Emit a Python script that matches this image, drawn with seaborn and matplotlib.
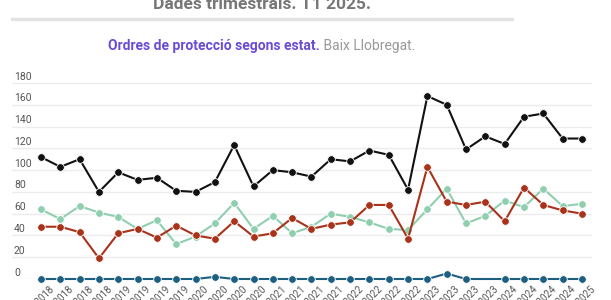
import numpy as np
import pandas as pd
import matplotlib
matplotlib.use("Agg")
import matplotlib.pyplot as plt
import matplotlib.transforms as mtransforms
import seaborn as sns

years = [2018]*4 + [2019]*4 + [2020]*4 + [2021]*4 + [2022]*4 + [2023]*4 + [2024]*4 + [2025]
quarters = [1, 2, 3, 4]*7 + [1]
tick_labels = [f"T{q}/{y}" for q, y in zip(quarters, years)]

serie_negre = [112, 103, 110, 80, 98, 91, 93, 81, 80, 89, 123, 85, 100, 98, 94, 110,
               108, 118, 114, 82, 168, 160, 119, 131, 124, 149, 152, 129, 129]
serie_verd = [64, 55, 67, 61, 57, 46, 54, 32, 39, 51, 70, 46, 58, 42, 48, 60,
              57, 52, 46, 45, 64, 83, 51, 58, 72, 66, 83, 67, 69]
serie_vermell = [48, 48, 43, 19, 42, 46, 38, 49, 40, 37, 53, 39, 42, 56, 46, 50,
                 52, 68, 68, 37, 103, 71, 68, 71, 53, 84, 68, 63, 60]
serie_blau = [0, 0, 0, 0, 0, 0, 0, 0, 0, 2, 0, 0, 0, 0, 0, 0,
              0, 0, 0, 0, 0, 5, 0, np.nan, 0, 0, 0, 0, 0]

series = {"A": serie_negre, "B": serie_verd, "C": serie_vermell, "D": serie_blau}
colors = {"A": "#111111", "B": "#8fcfb0", "C": "#a8321a", "D": "#1d5f80"}

rows = []
for name, vals in series.items():
    for i, v in enumerate(vals):
        rows.append({"x": i, "y": v, "serie": name})
df = pd.DataFrame(rows).dropna()

sns.set_theme(style="white")
plt.rcParams["font.family"] = ["Roboto", "DejaVu Sans"]

W, H = 611, 300
fig = plt.figure(figsize=(W/100, H/100), dpi=100)
ax = fig.add_axes([12/W, 1 - 279/H, 580/W, 196/H])

for name in ["B", "C", "A", "D"]:
    sub = df[df["serie"] == name]
    sns.lineplot(data=sub, x="x", y="y", ax=ax, color=colors[name], linewidth=1.5,
                 marker="o", markersize=5.5, markeredgecolor="white", markeredgewidth=0.6,
                 sort=False, legend=False, clip_on=False, zorder=3)

n = len(tick_labels)
ax.set_xlim(-1.5, n - 1 + 0.52)
ax.set_ylim(0, 180)
ax.set_yticks(range(0, 181, 20))
ax.set_yticklabels([str(v) for v in range(0, 181, 20)])
ax.set_xticks(range(n))
ax.set_xticklabels(tick_labels, rotation=45, ha="right", rotation_mode="anchor")
ax.set_xlabel("")
ax.set_ylabel("")
ax.grid(axis="y", color="#ececec", linewidth=1)
ax.grid(axis="x", visible=False)
for s in ax.spines.values():
    s.set_visible(False)
ax.tick_params(axis="y", length=0, pad=0, labelsize=7.5, labelcolor="#555555")
ax.tick_params(axis="x", length=0, pad=3, labelsize=7, labelcolor="#555555")
offset = mtransforms.ScaledTranslation(2/100, 6.5/100, fig.dpi_scale_trans)
for lab in ax.get_yticklabels():
    lab.set_horizontalalignment("left")
    lab.set_verticalalignment("center")
    lab.set_transform(lab.get_transform() + offset)
xoff = mtransforms.ScaledTranslation(8/100, 0, fig.dpi_scale_trans)
for lab in ax.get_xticklabels():
    lab.set_transform(lab.get_transform() + xoff)

# header
fig.text(262/W, 1 - 9/H, "Dades trimestrals. T1 2025.", ha="center", va="baseline",
         fontsize=12.5, fontweight="bold", color="#777777")
fig.add_artist(plt.Line2D([12/W, 512/W], [1 - 19/H, 1 - 19/H], color="#e2e2e2", linewidth=2.5))

fig.canvas.draw()
renderer = fig.canvas.get_renderer()
t1 = fig.text(0, 1 - 50/H, "Ordres de protecció segons estat.", ha="left", va="baseline",
              fontsize=10, fontweight="bold", color="#6a4bd6")
t2 = fig.text(0, 1 - 50/H, " Baix Llobregat.", ha="left", va="baseline",
              fontsize=10, color="#999999")
w1 = t1.get_window_extent(renderer).width
w2 = t2.get_window_extent(renderer).width
start = 262 - (w1 + w2) / 2
t1.set_x(start / W)
t2.set_x((start + w1) / W)

fig.savefig("out.png", dpi=100)
